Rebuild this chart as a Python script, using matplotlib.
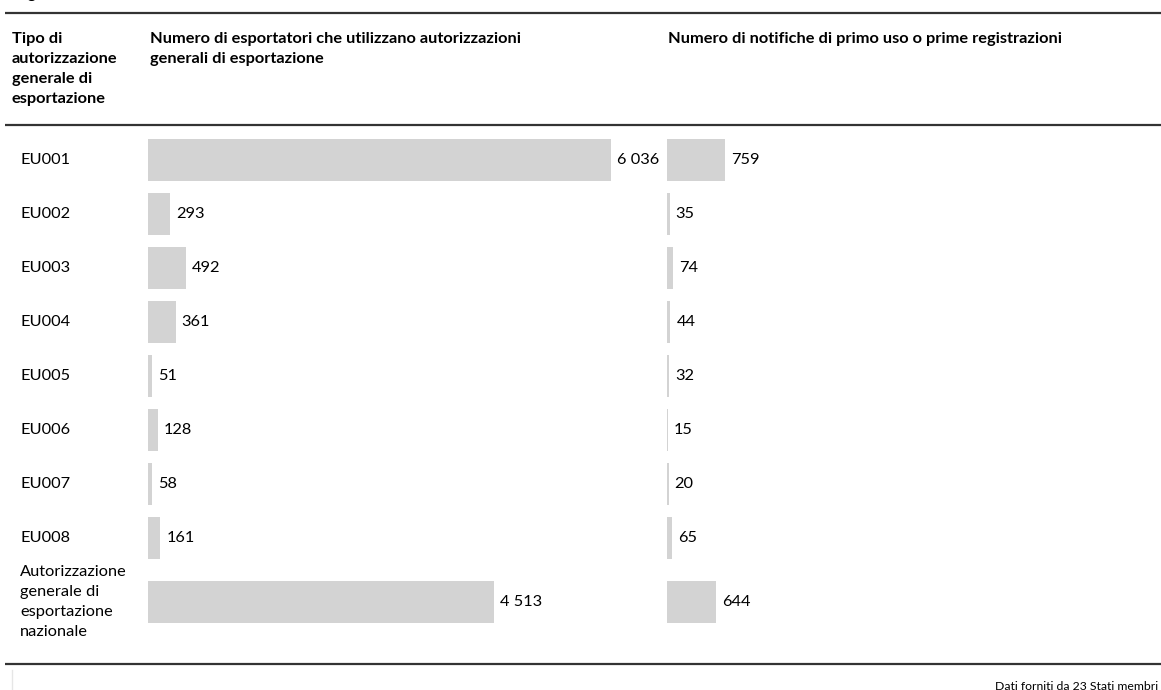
import matplotlib
matplotlib.use('Agg')
import matplotlib.pyplot as plt
import numpy as np

plt.rcParams['font.family'] = ['Lato', 'DejaVu Sans']

# data
tipi = ['EU001', 'EU002', 'EU003', 'EU004', 'EU005', 'EU006', 'EU007', 'EU008',
        'Autorizzazione\ngenerale di\nesportazione\nnazionale']
esportatori = [6036, 293, 492, 361, 51, 128, 58, 161, 4513]
notifiche = [759, 35, 74, 44, 32, 15, 20, 65, 644]

W, H = 1161, 690
fig = plt.figure(figsize=(W/100, H/100), dpi=100)

# background axes in pixel coords for rules and headers
bg = fig.add_axes([0, 0, 1, 1])
bg.set_xlim(0, W)
bg.set_ylim(H, 0)
bg.axis('off')

for y in [13, 125, 664]:
    bg.plot([5, W], [y, y], color='#333333', lw=1.6, solid_capstyle='butt')
bg.plot([12, 12], [670, H], color='#e6e6e6', lw=1)

fs = 11.8
ls = 1.55
bg.text(14, -6, 'Figura 14: EU GEA', fontsize=fs, fontweight='bold', va='center')
bg.text(12, 32, 'Tipo di\nautorizzazione\ngenerale di\nesportazione', fontsize=fs,
        fontweight='bold', va='top', linespacing=ls)
bg.text(150, 32, 'Numero di esportatori che utilizzano autorizzazioni\ngenerali di esportazione',
        fontsize=fs, fontweight='bold', va='top', linespacing=ls)
bg.text(668, 32, 'Numero di notifiche di primo uso o prime registrazioni',
        fontsize=fs, fontweight='bold', va='top', linespacing=ls)
bg.text(1158, 692, 'Dati forniti da 23 Stati membri', fontsize=8.8, ha='right', va='bottom')

# row positions (index units, the last row is taller)
pos = np.arange(len(tipi), dtype=float)
pos[-1] += 0.185
step, y0 = 54, 160
ylim = ((H - y0) / step, (0 - y0) / step)

scale = 463 / 6036  # px per unit

def col(x_left, x_right, vals):
    ax = fig.add_axes([x_left / W, 0, (x_right - x_left) / W, 1])
    ax.set_xlim(0, (x_right - x_left) / scale)
    ax.set_ylim(*ylim)
    ax.axis('off')
    ax.barh(pos, vals, height=0.78, color='#d3d3d3')
    for p, v in zip(pos, vals):
        ax.annotate(f'{v:,}'.replace(',', ' '), (v, p), xytext=(6, 0),
                    textcoords='offset pixels', va='center', fontsize=fs)
    return ax

col(148, 660, esportatori)
col(667, 1150, notifiche)

for p, t in zip(pos, tipi):
    bg.text(20, y0 + p * step, t, fontsize=fs, va='center', linespacing=ls)

fig.savefig('out.png', dpi=100)
